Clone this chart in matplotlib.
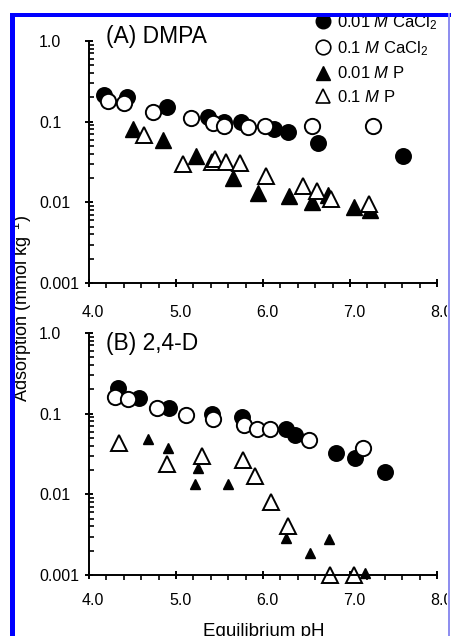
import matplotlib
matplotlib.use('Agg')
import matplotlib.pyplot as plt
import matplotlib.transforms as mtransforms
from matplotlib.patches import Rectangle
from matplotlib.lines import Line2D
from matplotlib.ticker import FixedLocator, LogLocator, NullFormatter

plt.rcParams['font.family'] = ['Liberation Sans', 'DejaVu Sans']
plt.rcParams['mathtext.fontset'] = 'custom'
plt.rcParams['mathtext.rm'] = 'Liberation Sans'
plt.rcParams['mathtext.it'] = 'Liberation Sans:italic'

# (A) DMPA
a_fc_ph = [4.17, 4.44, 4.90, 5.37, 5.55, 5.75, 6.13, 6.29, 6.63, 7.61]
a_fc_y = [0.215, 0.20, 0.15, 0.115, 0.10, 0.10, 0.08, 0.075, 0.055, 0.037]
a_oc_ph = [4.22, 4.40, 4.73, 5.17, 5.43, 5.55, 5.83, 6.02, 6.56, 7.27]
a_oc_y = [0.18, 0.17, 0.13, 0.11, 0.097, 0.088, 0.085, 0.088, 0.088, 0.088]
a_ft_ph = [4.51, 4.85, 5.23, 5.66, 5.94, 6.30, 6.56, 6.75, 7.05, 7.23]
a_ft_y = [0.08, 0.06, 0.038, 0.02, 0.013, 0.012, 0.010, 0.0125, 0.0087, 0.008]
a_ot_ph = [4.63, 5.08, 5.41, 5.45, 5.58, 5.74, 6.04, 6.46, 6.62, 6.78, 7.22]
a_ot_y = [0.069, 0.030, 0.032, 0.034, 0.032, 0.031, 0.021, 0.016, 0.014, 0.011, 0.0095]

# (B) 2,4-D
b_fc_ph = [4.33, 4.57, 4.92, 5.41, 5.76, 6.26, 6.37, 6.84, 7.06, 7.40]
b_fc_y = [0.21, 0.156, 0.118, 0.10, 0.091, 0.065, 0.055, 0.033, 0.028, 0.019]
b_oc_ph = [4.30, 4.45, 4.78, 5.11, 5.43, 5.78, 5.93, 6.08, 6.53, 7.15]
b_oc_y = [0.16, 0.15, 0.118, 0.096, 0.086, 0.072, 0.065, 0.065, 0.047, 0.038]
b_ft_ph = [4.68, 4.91, 5.25, 5.22, 5.60, 6.27, 6.54, 6.76, 7.17]
b_ft_y = [0.048, 0.037, 0.021, 0.0135, 0.0135, 0.0029, 0.0019, 0.0028, 0.00105]
b_ot_ph = [4.34, 4.90, 5.30, 5.77, 5.91, 6.09, 6.29, 6.77, 7.05]
b_ot_y = [0.043, 0.024, 0.030, 0.027, 0.017, 0.0081, 0.004, 0.001, 0.001]

xticks = [4.0, 5.0, 6.0, 7.0, 8.0]
xlabels = ['4.0', '5.0', '6.0', '7.0', '8.0']
yticks = [0.001, 0.01, 0.1, 1.0]
ylabels = ['0.001', '0.01', '0.1', '1.0']
legend_labels = [r'0.01 $\it{M}$ CaCl$_2$', r'0.1 $\it{M}$ CaCl$_2$',
                 r'0.01 $\it{M}$ P', r'0.1 $\it{M}$ P']

W, H = 452, 636
fig = plt.figure(figsize=(W / 100, H / 100), dpi=100)

def px(x0, y0, x1, y1):
    # pixel box (top-left origin) -> figure fraction rect
    return [x0 / W, 1 - y1 / H, (x1 - x0) / W, (y1 - y0) / H]

axA = fig.add_axes(px(89, 41, 437, 283))
axB = fig.add_axes(px(89, 333, 437, 575))

def setup(ax, pad_x):
    ax.set_yscale('log')
    ax.set_xlim(4.0, 8.0)
    ax.set_ylim(0.001, 1.0)
    for s in ['top', 'right']:
        ax.spines[s].set_visible(False)
    for s in ['left', 'bottom']:
        ax.spines[s].set_linewidth(1.4)
    ax.set_xticks(xticks)
    ax.set_xticklabels(xlabels)
    ax.xaxis.set_minor_locator(FixedLocator([4.2, 4.4, 4.6, 4.8, 5.2, 5.4, 5.6, 5.8,
                                             6.2, 6.4, 6.6, 6.8, 7.2, 7.4, 7.6, 7.8]))
    ax.set_yticks(yticks)
    ax.set_yticklabels(ylabels)
    ax.yaxis.set_minor_locator(LogLocator(base=10, subs=range(2, 10)))
    ax.yaxis.set_minor_formatter(NullFormatter())
    ax.tick_params(axis='both', which='major', direction='inout', length=6, width=1.4,
                   labelsize=11.5)
    ax.tick_params(axis='x', which='minor', direction='out', length=3.5, width=1.2)
    ax.tick_params(axis='y', which='minor', direction='in', length=3.5, width=1.2)
    ax.tick_params(axis='x', which='major', pad=pad_x)
    ax.tick_params(axis='y', which='major', pad=33)
    for lbl in ax.get_yticklabels():
        lbl.set_horizontalalignment('left')
    # x labels sit a few pixels right of their ticks in the original
    shift = mtransforms.ScaledTranslation(4 / 100, 0, fig.dpi_scale_trans)
    for lbl in ax.get_xticklabels():
        lbl.set_transform(lbl.get_transform() + shift)

def draw(ax, fc, oc, ft, ot, small_ft):
    ax.plot(fc[0], fc[1], 'o', ms=11, mfc='black', mec='black', mew=1.2, ls='none', clip_on=False)
    ax.plot(oc[0], oc[1], 'o', ms=11, mfc='white', mec='black', mew=1.4, ls='none', clip_on=False)
    ax.plot(ft[0], ft[1], '^', ms=7.5 if small_ft else 11, mfc='black', mec='black', mew=1.0,
            ls='none', clip_on=False)
    ax.plot(ot[0], ot[1], '^', ms=11.5, mfc='white', mec='black', mew=1.4, ls='none', clip_on=False)

setup(axA, 13)
setup(axB, 10)
draw(axA, (a_fc_ph, a_fc_y), (a_oc_ph, a_oc_y), (a_ft_ph, a_ft_y), (a_ot_ph, a_ot_y), False)
draw(axB, (b_fc_ph, b_fc_y), (b_oc_ph, b_oc_y), (b_ft_ph, b_ft_y), (b_ot_ph, b_ot_y), True)

axA.text(106 / W, 1 - 36 / H, '(A) DMPA', transform=fig.transFigure, fontsize=16.5,
         va='center', ha='left')
axB.text(106 / W, 1 - 343 / H, '(B) 2,4-D', transform=fig.transFigure, fontsize=16.5,
         va='center', ha='left')

fig.text(22 / W, 1 - 308 / H, r'Adsorption (mmol kg$^{-1}$)', rotation=90,
         fontsize=13, ha='center', va='center')
fig.text(264 / W, 1 - 631 / H, 'Equilibrium pH', fontsize=13.5, ha='center', va='center')

handles = [
    Line2D([], [], marker='o', ls='none', ms=10.5, mfc='black', mec='black'),
    Line2D([], [], marker='o', ls='none', ms=10.5, mfc='white', mec='black', mew=1.2),
    Line2D([], [], marker='^', ls='none', ms=10.5, mfc='black', mec='black'),
    Line2D([], [], marker='^', ls='none', ms=10.5, mfc='white', mec='black', mew=1.2),
]
fig.legend(handles, legend_labels, loc='upper left', bbox_to_anchor=(316 / W, 1 - 13 / H),
           bbox_transform=fig.transFigure, frameon=False, fontsize=12,
           handlelength=0.9, handletextpad=0.35, labelspacing=0.45, borderpad=0,
           borderaxespad=0)

# outer blue frame, drawn over everything
blue = '#0000ff'
fig.patches.append(Rectangle((0, 1 - 13 / H), 1, 13 / H, transform=fig.transFigure,
                             facecolor='white', edgecolor='none', zorder=100))
fig.patches.append(Rectangle((0, 0), 10 / W, 1, transform=fig.transFigure,
                             facecolor='white', edgecolor='none', zorder=100))
fig.patches.append(Rectangle((10 / W, 1 - 17 / H), (W - 10) / W, 4 / H, transform=fig.transFigure,
                             facecolor=blue, edgecolor='none', zorder=101))
fig.patches.append(Rectangle((10 / W, 0), 5 / W, 1 - 13 / H, transform=fig.transFigure,
                             facecolor=blue, edgecolor='none', zorder=101))
fig.patches.append(Rectangle((447.5 / W, 0), 4.5 / W, 1 - 13 / H, transform=fig.transFigure,
                             facecolor='white', edgecolor='none', zorder=100))
fig.patches.append(Rectangle((448.5 / W, 0), 1.5 / W, 1 - 13 / H, transform=fig.transFigure,
                             facecolor='#8f8fef', edgecolor='none', zorder=101))

fig.savefig('out.png', dpi=100)
